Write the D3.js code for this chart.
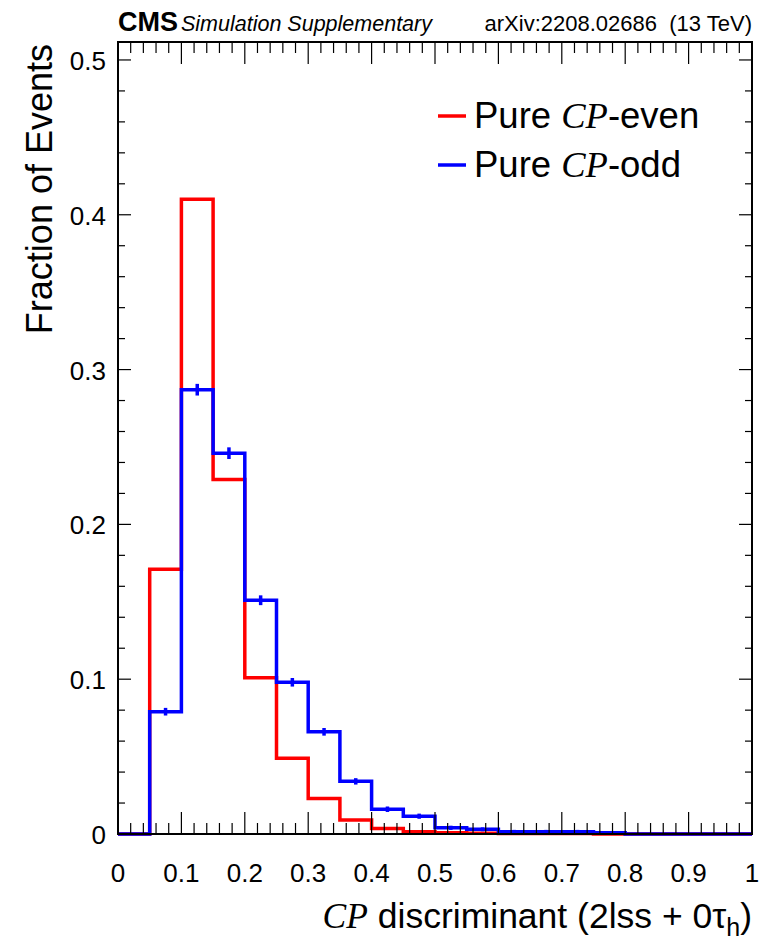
<!DOCTYPE html>
<html>
<head>
<meta charset="utf-8">
<script src="https://cdn.jsdelivr.net/npm/d3@7"></script>
<style>
  body { margin: 0; background: #fff; }
  svg text { font-family: "Liberation Sans", Arial, sans-serif; }
</style>
</head>
<body>
<div id="chart"></div>
<script>
// Histogram bin edges (width 0.05) and contents
const binEdges = d3.range(0, 21).map(i => i * 0.05);
const cpEven = [0, 0.171, 0.410, 0.229, 0.101, 0.049, 0.023, 0.009, 0.0035, 0.0015,
  0.0008, 0.0005, 0.0004, 0.0003, 0.0003, 0, 0, 0, 0, 0];
const cpOdd = [0, 0.079, 0.287, 0.246, 0.151, 0.098, 0.066, 0.034, 0.016, 0.0115,
  0.004, 0.003, 0.0015, 0.0015, 0.0015, 0.0008, 0, 0, 0, 0];
const cpOddErr = [0, 0.0015, 0.0028, 0.0028, 0.0022, 0.0018, 0.0015, 0.0011, 0.0008, 0.0007,
  0.0004, 0.0003, 0.0002, 0.0002, 0.0002, 0.0001, 0, 0, 0, 0];
const xTicks = d3.range(0, 11).map(i => i / 10);
const yTicks = [0, 0.1, 0.2, 0.3, 0.4, 0.5];
const yMax = 0.5116;

const W = 761, H = 942;
const margin = { top: 42, right: 9, bottom: 108, left: 118 };
const width = W - margin.left - margin.right;
const height = H - margin.top - margin.bottom;

const svg = d3.select('#chart').append('svg')
  .attr('width', W)
  .attr('height', H);

const x = d3.scaleLinear().domain([0, 1]).range([0, width]);
const y = d3.scaleLinear().domain([0, yMax]).range([height, 0]);

const g = svg.append('g').attr('transform', `translate(${margin.left},${margin.top})`);

// --- step outlines ---
function stepPath(vals) {
  const pts = [[binEdges[0], vals[0]]];
  vals.forEach((v, i) => {
    pts.push([binEdges[i], v]);
    pts.push([binEdges[i + 1], v]);
  });
  return d3.line().x(d => x(d[0])).y(d => y(d[1]))(pts);
}

g.append('path')
  .attr('d', stepPath(cpEven))
  .attr('fill', 'none')
  .attr('stroke', '#ff0000')
  .attr('stroke-width', 3.5);

g.append('path')
  .attr('d', stepPath(cpOdd))
  .attr('fill', 'none')
  .attr('stroke', '#0000ff')
  .attr('stroke-width', 3.5);

// error bars on the odd sample
g.selectAll('.err')
  .data(cpOdd.map((v, i) => ({ v, e: cpOddErr[i], c: (binEdges[i] + binEdges[i + 1]) / 2 }))
    .filter(d => d.e > 0))
  .enter()
  .append('line')
  .attr('x1', d => x(d.c)).attr('x2', d => x(d.c))
  .attr('y1', d => y(d.v - d.e) + 1.5).attr('y2', d => y(d.v + d.e) - 1.5)
  .attr('stroke', '#0000ff')
  .attr('stroke-width', 3.5);

// --- frame and ticks (ROOT style, inside on all sides) ---
const xMinor = d3.range(0, 51).map(i => i / 50);
const yMinor = d3.range(0, 26).map(i => i / 50).filter(v => v <= yMax);
const tickCol = '#000';

function isMajor(v, step) { return Math.abs(v / step - Math.round(v / step)) < 1e-6; }

[0, height].forEach((yy, k) => {
  g.selectAll(null)
    .data(xMinor)
    .enter()
    .append('line')
    .attr('x1', d => x(d)).attr('x2', d => x(d))
    .attr('y1', yy)
    .attr('y2', d => yy + (k === 0 ? 1 : -1) * (isMajor(d, 0.1) ? 22 : 11))
    .attr('stroke', tickCol)
    .attr('stroke-width', 1.2);
});

[0, width].forEach((xx, k) => {
  g.selectAll(null)
    .data(yMinor)
    .enter()
    .append('line')
    .attr('y1', d => y(d)).attr('y2', d => y(d))
    .attr('x1', xx)
    .attr('x2', d => xx + (k === 0 ? 1 : -1) * (isMajor(d, 0.1) ? 13 : 7))
    .attr('stroke', tickCol)
    .attr('stroke-width', 1.2);
});

g.append('rect')
  .attr('width', width)
  .attr('height', height)
  .attr('fill', 'none')
  .attr('stroke', '#000')
  .attr('stroke-width', 2);

// tick labels
g.selectAll('.xl')
  .data(xTicks)
  .enter()
  .append('text')
  .attr('x', d => x(d))
  .attr('y', height + 48)
  .attr('text-anchor', 'middle')
  .style('font-size', '26px')
  .text(d => d === 0 || d === 1 ? String(d) : d.toFixed(1));

g.selectAll('.yl')
  .data(yTicks)
  .enter()
  .append('text')
  .attr('x', -12)
  .attr('y', d => y(d) + 10)
  .attr('text-anchor', 'end')
  .style('font-size', '26px')
  .text(d => d === 0 ? '0' : d.toFixed(1));

// axis titles
const xt = svg.append('text')
  .attr('x', margin.left + width)
  .attr('y', 928)
  .attr('text-anchor', 'end')
  .style('font-size', '35.5px');
xt.append('tspan').style('font-family', '"Liberation Serif", "Times New Roman", serif')
  .style('font-style', 'italic').text('CP');
xt.append('tspan').text(' discriminant (2lss + 0τ');
xt.append('tspan').attr('dy', 8).style('font-size', '25px').text('h');
xt.append('tspan').attr('dy', -8).text(')');

svg.append('text')
  .attr('transform', `translate(52,${margin.top + 2}) rotate(-90)`)
  .attr('text-anchor', 'end')
  .style('font-size', '36px')
  .text('Fraction of Events');

// header
const hd = svg.append('text')
  .attr('x', margin.left)
  .attr('y', 31);
hd.append('tspan').style('font-weight', 'bold').style('font-size', '27px').text('CMS');
hd.append('tspan').attr('dx', 3).style('font-style', 'italic').style('font-size', '21.5px')
  .text('Simulation Supplementary');

svg.append('text')
  .attr('x', margin.left + width)
  .attr('y', 31)
  .attr('text-anchor', 'end')
  .style('font-size', '22px')
  .attr('xml:space', 'preserve')
  .text('arXiv:2208.02686  (13 TeV)');

// legend
const legendItems = [
  { label: '-even', color: '#ff0000' },
  { label: '-odd', color: '#0000ff' }
];
const lg = svg.append('g').attr('transform', 'translate(438,116)');
legendItems.forEach((d, i) => {
  const row = lg.append('g').attr('transform', `translate(0,${i * 49})`);
  row.append('line')
    .attr('x1', 0).attr('x2', 28)
    .attr('stroke', d.color)
    .attr('stroke-width', 3.5);
  const t = row.append('text')
    .attr('x', 36)
    .attr('y', 12)
    .style('font-size', '36.5px');
  t.append('tspan').text('Pure ');
  t.append('tspan').style('font-family', '"Liberation Serif", "Times New Roman", serif')
    .style('font-style', 'italic').text('CP');
  t.append('tspan').text(d.label);
});
</script>
</body>
</html>
